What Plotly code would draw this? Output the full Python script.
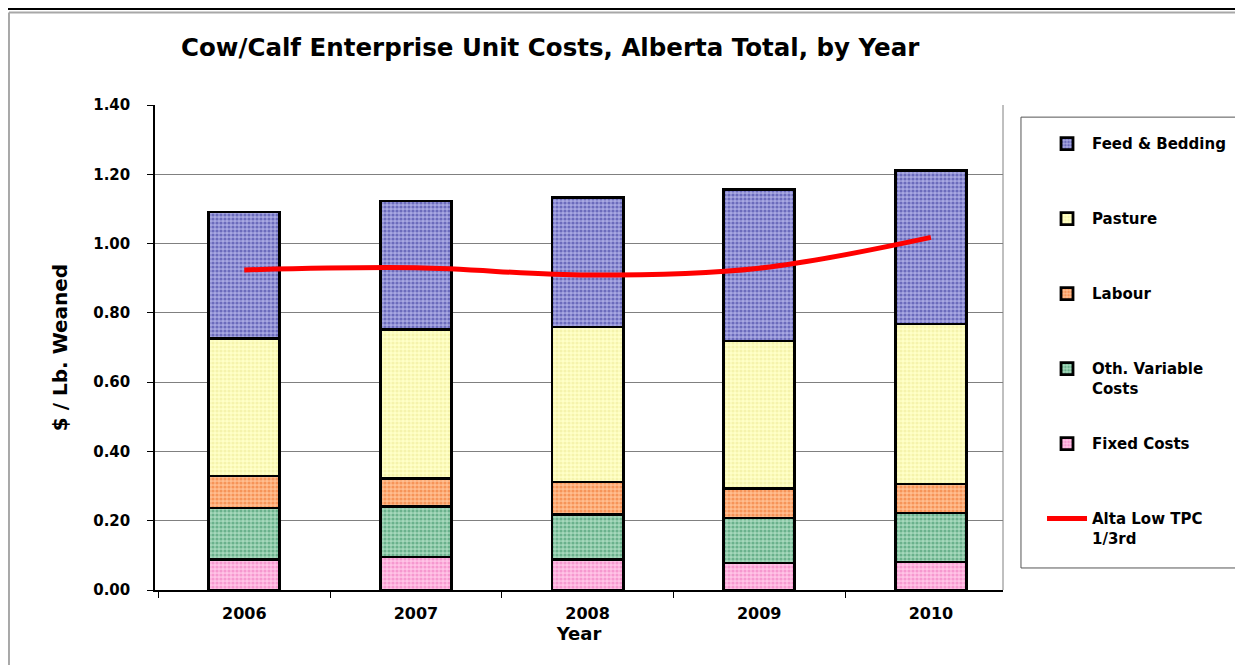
import plotly.graph_objects as go

years = ["2006", "2007", "2008", "2009", "2010"]

fixed_costs = [0.087, 0.095, 0.087, 0.078, 0.081]
oth_variable = [0.150, 0.145, 0.132, 0.130, 0.141]
labour = [0.092, 0.083, 0.093, 0.084, 0.084]
pasture = [0.396, 0.430, 0.447, 0.427, 0.462]
feed_bedding = [0.366, 0.370, 0.373, 0.436, 0.442]
alta_low_tpc = [0.924, 0.930, 0.909, 0.929, 1.018]

y_ticks = [0, 0.2, 0.4, 0.6, 0.8, 1.0, 1.2, 1.4]

FONT = "DejaVu Sans"

series = [
    # name, values, background colour, pattern colour, legend rank
    ("Fixed Costs", fixed_costs, "#ffc4e6", "#ee6cb8", 5),
    ("Oth. Variable<br>Costs", oth_variable, "#a6d8bc", "#2e8a5c", 4),
    ("Labour", labour, "#ffbe90", "#ee6a20", 3),
    ("Pasture", pasture, "#ffffc8", "#ece890", 2),
    ("Feed & Bedding", feed_bedding, "#a8a8e2", "#2e2e96", 1),
]

fig = go.Figure()

for name, vals, bg, fg, rank in series:
    label = name if "<br>" in name else name + "<br> "
    fig.add_trace(
        go.Bar(
            x=years,
            y=vals,
            name=f"<b>{label}</b>",
            legendgroup=name,
            legendrank=rank,
            marker=dict(
                color=bg,
                line=dict(color="black", width=2.8),
                pattern=dict(shape=".", fgcolor=fg, size=4, solidity=0.5),
            ),
        )
    )

fig.add_trace(
    go.Scatter(
        x=years,
        y=alta_low_tpc,
        name="<b>Alta Low TPC<br>1/3rd</b>",
        legendgroup="tpc",
        legendrank=6,
        mode="lines",
        line=dict(color="#ff0000", width=5, shape="spline", smoothing=1.0),
    )
)

# frame of the chart, plot area right edge and legend box
frame = [
    dict(type="line", xref="paper", yref="paper", x0=-0.19, x1=1.3,
         y0=1.1979, y1=1.1979, line=dict(color="black", width=2)),
    dict(type="line", xref="paper", yref="paper", x0=-0.1722, x1=1.3,
         y0=1.1907, y1=1.1907, line=dict(color="#a8a8a8", width=2)),
    dict(type="line", xref="paper", yref="paper", x0=-0.1722, x1=-0.1722,
         y0=-0.2, y1=1.1907, line=dict(color="#a8a8a8", width=2)),
    dict(type="line", xref="paper", yref="paper", x0=1, x1=1,
         y0=0, y1=1, line=dict(color="#808080", width=1)),
    dict(type="rect", xref="paper", yref="paper", x0=1.0212, x1=1.2771,
         y0=0.0454, y1=0.975, line=dict(color="#555555", width=1)),
]

# the page adds an 8px body margin, so the figure is a bit smaller
fig.update_layout(
    width=1235,
    height=657,
    margin=dict(l=147, r=240, t=97, b=75),
    paper_bgcolor="white",
    plot_bgcolor="white",
    barmode="stack",
    bargap=0.586,
    font=dict(family=FONT, color="black"),
    title=dict(
        text="<b>Cow/Calf Enterprise Unit Costs, Alberta Total, by Year</b>",
        font=dict(size=24.5, family=FONT),
        x=0.466,
        xref="paper",
        xanchor="center",
        y=0.9395,
        yanchor="middle",
    ),
    legend=dict(
        x=1.046,
        y=0.954,
        xanchor="left",
        yanchor="top",
        font=dict(size=15, family=FONT),
        tracegroupgap=33,
        valign="top",
        itemwidth=40,
        bgcolor="rgba(0,0,0,0)",
    ),
    shapes=frame,
)

fig.update_xaxes(
    type="category",
    range=[-0.52, 4.42],
    showline=True,
    linecolor="black",
    linewidth=1.5,
    ticks="outside",
    tickson="boundaries",
    ticklen=6,
    tickcolor="black",
    tickvals=years,
    ticktext=[f"<b>{y}</b>" for y in years],
    ticklabelstandoff=8,
    tickfont=dict(size=16, family=FONT),
    automargin=False,
    title=dict(text="<b>Year</b>", font=dict(size=18, family=FONT), standoff=5),
)
fig.update_yaxes(
    range=[0, 1.4],
    tickvals=y_ticks,
    ticktext=[f"<b>{v:.2f}</b>" for v in y_ticks],
    showgrid=True,
    gridcolor="#808080",
    gridwidth=1,
    showline=True,
    linecolor="black",
    linewidth=1.5,
    ticks="outside",
    ticklen=6,
    tickcolor="black",
    zeroline=False,
    ticklabelstandoff=14,
    tickfont=dict(size=15, family=FONT),
    automargin=False,
    title=dict(text="<b>$ / Lb. Weaned</b>", font=dict(size=20, family=FONT), standoff=20),
)

fig.write_html("out.html")
